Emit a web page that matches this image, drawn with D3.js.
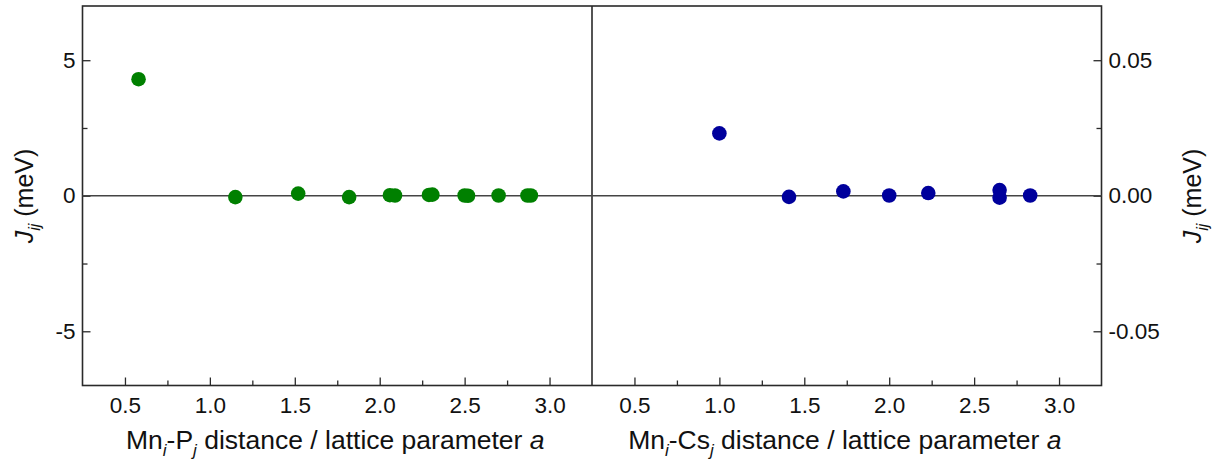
<!DOCTYPE html>
<html>
<head>
<meta charset="utf-8">
<script src="https://cdn.jsdelivr.net/npm/d3@7"></script>
<style>
  html, body { margin: 0; padding: 0; background: #fff; }
  svg { display: block; font-family: "Liberation Sans", Arial, sans-serif; }
</style>
</head>
<body>
<svg id="chart" width="1223" height="463"></svg>
<script>
// Exchange constants J_ij versus neighbour distance (in units of a)
const mnPDistance = [0.58, 1.15, 1.52, 1.82, 2.06, 2.09, 2.29, 2.31, 2.50, 2.52, 2.70, 2.87, 2.89];
const mnPJ        = [4.30, -0.05, 0.08, -0.05, 0.02, 0.01, 0.03, 0.04, 0.01, 0.00, 0.01, 0.01, 0.01];

const mnCsDistance = [1.00, 1.41, 1.73, 2.00, 2.23, 2.65, 2.65, 2.83];
const mnCsJ        = [0.0230, -0.0004, 0.0016, 0.0001, 0.0010, 0.0021, -0.0007, 0.0001];

const xTicks = [0.5, 1.0, 1.5, 2.0, 2.5, 3.0];
const xMinorTicks = [0.75, 1.25, 1.75, 2.25, 2.75];
const leftYTicks = [-5, 0, 5];
const leftYMinor = [-2.5, 2.5];
const rightYTicks = [-0.05, 0.00, 0.05];
const rightYMinor = [-0.025, 0.025];

const svg = d3.select("#chart");
const plotTop = 6, plotBottom = 385.5;
const leftPanel = [82.5, 592];
const rightPanel = [592, 1101.5];
const frameColor = "#2a2a2a";
const tickFont = 22.5;

// plain hyphen for negative numbers
const hyphen = f => d => f(d).replace("\u2212", "-");

const xLeft = d3.scaleLinear().domain([0.25, 3.25]).range(leftPanel);
const xRight = d3.scaleLinear().domain([0.25, 3.25]).range(rightPanel);
const yLeft = d3.scaleLinear().domain([-7, 7]).range([plotBottom, plotTop]);
const yRight = d3.scaleLinear().domain([-0.07, 0.07]).range([plotBottom, plotTop]);

function styleAxis(g) {
  g.select(".domain").remove();
  g.selectAll(".tick line").attr("stroke", frameColor).attr("stroke-width", 1.3);
  g.selectAll(".tick text")
    .attr("fill", "#111")
    .style("font-size", tickFont + "px")
    .style("font-family", "'Liberation Sans', Arial, sans-serif");
}

// bottom axes (ticks point inward)
[xLeft, xRight].forEach(x => {
  svg.append("g").attr("transform", `translate(0,${plotBottom})`)
    .call(d3.axisBottom(x).tickValues(xTicks).tickSize(-8).tickPadding(12).tickFormat(d3.format(".1f")))
    .call(styleAxis);
  svg.append("g").attr("transform", `translate(0,${plotBottom})`)
    .call(d3.axisBottom(x).tickValues(xMinorTicks).tickSize(-5).tickFormat(""))
    .call(styleAxis);
});

// left y axis
svg.append("g").attr("transform", `translate(${leftPanel[0]},0)`)
  .call(d3.axisLeft(yLeft).tickValues(leftYTicks).tickSize(-8).tickPadding(7).tickFormat(hyphen(d3.format("d"))))
  .call(styleAxis);
svg.append("g").attr("transform", `translate(${leftPanel[0]},0)`)
  .call(d3.axisLeft(yLeft).tickValues(leftYMinor).tickSize(-5).tickFormat(""))
  .call(styleAxis);

// right y axis
svg.append("g").attr("transform", `translate(${rightPanel[1]},0)`)
  .call(d3.axisRight(yRight).tickValues(rightYTicks).tickSize(-8).tickPadding(7).tickFormat(hyphen(d3.format(".2f"))))
  .call(styleAxis);
svg.append("g").attr("transform", `translate(${rightPanel[1]},0)`)
  .call(d3.axisRight(yRight).tickValues(rightYMinor).tickSize(-5).tickFormat(""))
  .call(styleAxis);

// frame and divider
const frame = svg.append("g").attr("fill", "none").attr("stroke", frameColor).attr("stroke-width", 1.6);
frame.append("rect")
  .attr("x", leftPanel[0]).attr("y", plotTop)
  .attr("width", rightPanel[1] - leftPanel[0]).attr("height", plotBottom - plotTop);
frame.append("line")
  .attr("x1", leftPanel[1]).attr("x2", leftPanel[1])
  .attr("y1", plotTop).attr("y2", plotBottom);

// zero line
svg.append("line")
  .attr("x1", leftPanel[0]).attr("x2", rightPanel[1])
  .attr("y1", yLeft(0)).attr("y2", yLeft(0))
  .attr("stroke", "#444").attr("stroke-width", 1.6);

// points
const greenPts = mnPDistance.map((d, i) => ({ x: d, y: mnPJ[i] }));
const bluePts = mnCsDistance.map((d, i) => ({ x: d, y: mnCsJ[i] }));

svg.append("g").selectAll("circle").data(greenPts).join("circle")
  .attr("cx", d => xLeft(d.x)).attr("cy", d => yLeft(d.y))
  .attr("r", 7.3).attr("fill", "#008000");

svg.append("g").selectAll("circle").data(bluePts).join("circle")
  .attr("cx", d => xRight(d.x)).attr("cy", d => yRight(d.y))
  .attr("r", 7.3).attr("fill", "#00009c");

// axis titles
function xTitle(cx, atom) {
  const t = svg.append("text")
    .attr("x", cx).attr("y", 449)
    .attr("text-anchor", "middle")
    .attr("fill", "#111")
    .style("font-size", "26.5px");
  t.append("tspan").text("Mn");
  t.append("tspan").attr("dy", 7).style("font-size", "17px").style("font-style", "italic").text("i");
  t.append("tspan").attr("dy", -7).text("-" + atom);
  t.append("tspan").attr("dy", 7).style("font-size", "17px").style("font-style", "italic").text("j");
  t.append("tspan").attr("dy", -7).text(" distance / lattice parameter ");
  t.append("tspan").style("font-style", "italic").text("a");
}
xTitle((leftPanel[0] + leftPanel[1]) / 2 - 2, "P");
xTitle((rightPanel[0] + rightPanel[1]) / 2 - 2, "Cs");

function yTitle(x, y) {
  const t = svg.append("text")
    .attr("transform", `translate(${x},${y}) rotate(-90)`)
    .attr("text-anchor", "middle")
    .attr("fill", "#111")
    .style("font-size", "25px");
  t.append("tspan").style("font-style", "italic").text("J");
  t.append("tspan").attr("dy", 7).style("font-size", "16px").style("font-style", "italic").text("ij");
  t.append("tspan").attr("dy", -7).text(" (meV)");
}
yTitle(33, 196);
yTitle(1201, 196);
</script>
</body>
</html>
